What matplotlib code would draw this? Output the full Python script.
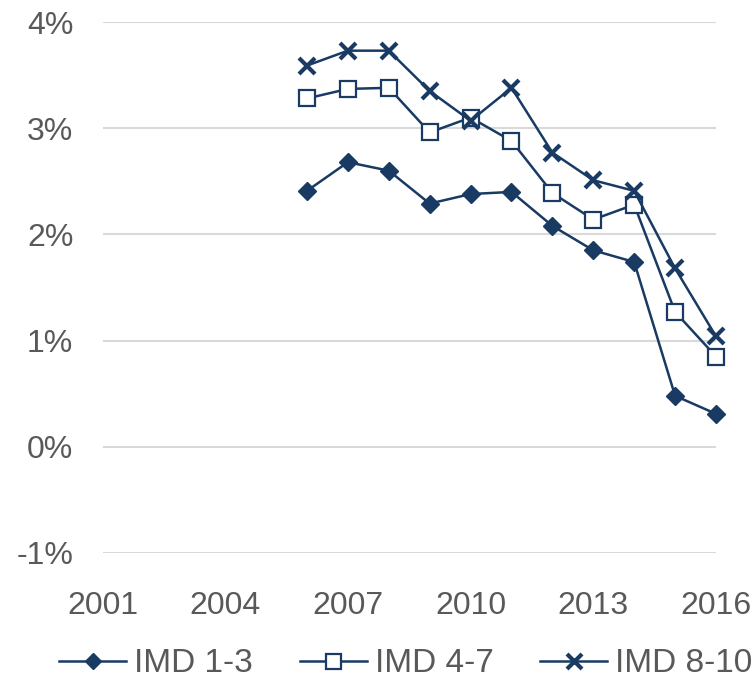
import matplotlib
matplotlib.use("Agg")
import matplotlib.pyplot as plt
from matplotlib.ticker import FuncFormatter

plt.rcParams['font.family'] = ['Liberation Sans', 'DejaVu Sans']

# data (percent)
years = [2006, 2007, 2008, 2009, 2010, 2011, 2012, 2013, 2014, 2015, 2016]
imd_1_3 = [2.41, 2.68, 2.60, 2.29, 2.38, 2.40, 2.08, 1.85, 1.74, 0.48, 0.31]
imd_4_7 = [3.28, 3.37, 3.38, 2.96, 3.10, 2.88, 2.39, 2.14, 2.28, 1.27, 0.85]
imd_8_10 = [3.59, 3.73, 3.73, 3.35, 3.07, 3.38, 2.77, 2.51, 2.41, 1.68, 1.04]

x_ticks = [2001, 2004, 2007, 2010, 2013, 2016]
y_ticks = [-1, 0, 1, 2, 3, 4]

NAVY = "#183a63"
TEXT = "#595959"
GRID = "#d9d9d9"

fig = plt.figure(figsize=(7.56, 6.81), dpi=100)
ax = fig.add_axes([102.5 / 756, (681 - 553) / 681, (716 - 102.5) / 756, (553 - 22) / 681])

ax.plot(years, imd_1_3, color=NAVY, lw=1.8, marker='D', markersize=9,
        markerfacecolor=NAVY, markeredgecolor=NAVY, label="IMD 1-3", clip_on=False)
ax.plot(years, imd_4_7, color=NAVY, lw=1.8, marker='s', markersize=12,
        markerfacecolor='white', markeredgecolor=NAVY, markeredgewidth=1.6,
        label="IMD 4-7", clip_on=False)
ax.plot(years, imd_8_10, color=NAVY, lw=1.8, marker='x', markersize=12,
        markeredgewidth=3, label="IMD 8-10", clip_on=False)

ax.set_xlim(2001, 2016)
ax.set_ylim(-1, 4)
ax.set_xticks(x_ticks)
ax.set_yticks(y_ticks)
ax.yaxis.set_major_formatter(FuncFormatter(lambda v, p: f"{v:.0f}%"))

ax.grid(axis='y', color=GRID, lw=1.5)
ax.set_axisbelow(True)
for s in ax.spines.values():
    s.set_visible(False)
ax.tick_params(axis='both', length=0, labelsize=23, labelcolor=TEXT)
ax.tick_params(axis='y', pad=21)
ax.tick_params(axis='x', pad=27)

leg = fig.legend(loc='center', bbox_to_anchor=(0.537, (681 - 664) / 681), ncol=3,
                 frameon=False, fontsize=24, handlelength=2.0, handletextpad=0.25,
                 columnspacing=1.4, labelcolor=TEXT, markerscale=0.9)

fig.savefig("out.png", dpi=100)
